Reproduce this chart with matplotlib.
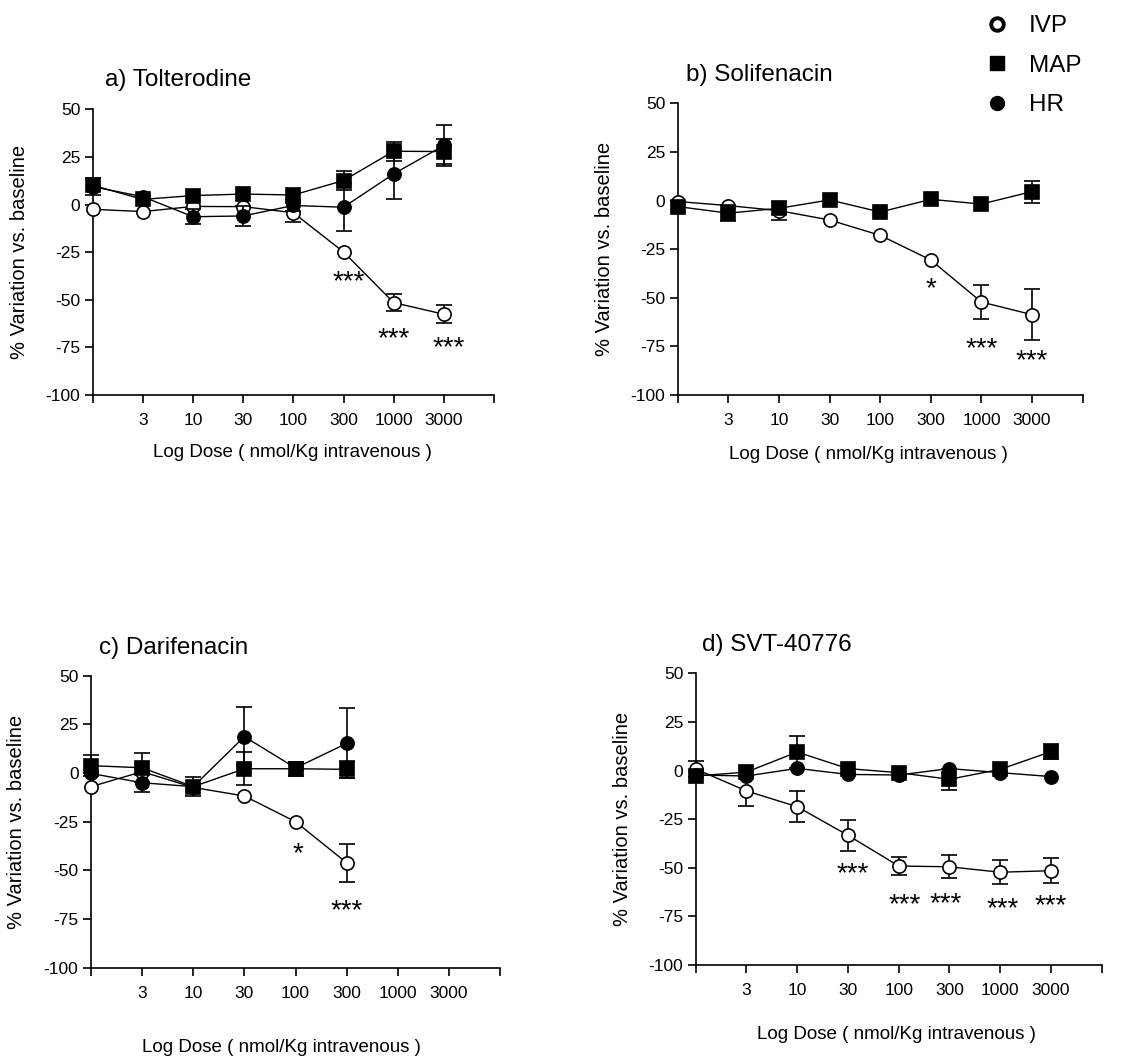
import numpy as np
import matplotlib
matplotlib.use('Agg')
from matplotlib import pyplot as plt
from matplotlib.lines import Line2D
from matplotlib.transforms import ScaledTranslation

plt.rcParams['font.family'] = 'Liberation Sans'
plt.rcParams['axes.unicode_minus'] = False

nan = np.nan

# dose levels (nmol/Kg, log scale shown as evenly spaced categories)
dose_labels = ['', '3', '10', '30', '100', '300', '1000', '3000', '']

titles = ['a) Tolterodine', 'b) Solifenacin', 'c) Darifenacin', 'd) SVT-40776']

# a) Tolterodine
tol_ivp = [-2.5, -3.7, -1.0, -1.1, -4.3, -24.9, -51.5, -57.6]
tol_ivp_err = [nan, nan, nan, nan, 5.0, nan, 4.4, 4.7]
tol_map = [10.1, 2.7, 4.7, 5.5, 5.0, 12.6, 28.0, 27.8]
tol_map_err = [nan, nan, nan, nan, nan, 5.0, 4.9, 6.6]
tol_hr = [9.4, 4.1, -6.4, -6.0, -0.5, -1.4, 16.1, 31.0]
tol_hr_err = [4.5, nan, 4.0, 5.3, 3.0, 12.5, 13.3, 11.0]
tol_stars_x = [5.1, 6.0, 7.1]
tol_stars_y = [-39.1, -69.0, -73.8]
tol_stars = ['***', '***', '***']

# b) Solifenacin
sol_ivp = [-0.5, -2.6, -5.2, -10.0, -17.9, -30.6, -52.2, -58.7]
sol_ivp_err = [nan, nan, 4.7, nan, nan, nan, 8.6, 13.0]
sol_map = [-3.1, -6.5, -4.0, 0.3, -5.9, 0.6, -1.8, 4.6]
sol_map_err = [nan, 4.0, nan, nan, nan, nan, nan, 5.7]
sol_stars_x = [5.0, 6.0, 7.0]
sol_stars_y = [-44.3, -75.1, -81.1]
sol_stars = ['*', '***', '***']

# c) Darifenacin
dar_ivp = [-7.0, 0.7, -7.4, -11.8, -25.0, -46.1]
dar_ivp_err = [nan, nan, nan, nan, nan, 9.7]
dar_map = [3.8, 2.7, -7.0, 2.2, 2.2, 1.9]
dar_map_err = [5.5, 7.5, 5.0, 8.5, 3.5, 4.5]
dar_hr = [-0.2, -5.0, -7.0, 18.7, 2.6, 15.2]
dar_hr_err = [nan, 4.8, nan, 15.0, nan, 18.0]
dar_stars_x = [4.05, 5.0]
dar_stars_y = [-40.4, -69.5]
dar_stars = ['*', '***']

# d) SVT-40776
svt_ivp = [0.8, -10.5, -18.6, -33.3, -49.1, -49.5, -52.3, -51.5]
svt_ivp_err = [4.0, 7.8, 7.9, 8.0, 4.6, 5.9, 6.2, 6.3]
svt_map = [-2.8, -0.8, 9.5, 1.0, -1.1, -4.5, 0.6, 9.7]
svt_map_err = [nan, nan, 8.4, nan, nan, 5.5, nan, 3.8]
svt_hr = [-2.3, -2.8, 1.1, -2.0, -2.3, 1.0, -1.1, -3.1]
svt_hr_err = [nan, nan, nan, nan, nan, nan, nan, nan]
svt_stars_x = [3.1, 4.12, 4.93, 6.04, 7.0]
svt_stars_y = [-51.7, -67.6, -67.1, -70.0, -68.3]
svt_stars = ['***', '***', '***', '***', '***']

W, H = 1144, 1056
fig = plt.figure(figsize=(W / 100, H / 100), dpi=100)


def px_axes(left, top, right, bottom):
    return fig.add_axes([left / W, 1 - bottom / H, (right - left) / W, (bottom - top) / H])


def series(ax, y, err, marker, face, z):
    x = np.arange(len(y))
    ax.errorbar(x, y, yerr=err, color='black', lw=1.0, marker=marker, ms=9.5,
                mfc=face, mec='black', mew=1.2, capsize=5.5, capthick=1.2,
                elinewidth=1.2, clip_on=False, zorder=z)


def panel(ax, ivp, ivp_err, maps, map_err, hr, hr_err, sx, sy, stars):
    series(ax, ivp, ivp_err, 'o', 'white', 3)
    if hr is not None:
        series(ax, hr, hr_err, 'o', 'black', 4)
    series(ax, maps, map_err, 's', 'black', 5)
    shift = ax.transData + ScaledTranslation(0, -0.03, fig.dpi_scale_trans)
    for x, y, s in zip(sx, sy, stars):
        ax.text(x, y, s, fontsize=20, ha='center', va='center', transform=shift)
    ax.set_xlim(0, 8)
    ax.set_ylim(-100, 50)
    ax.set_xticks(range(9))
    ax.set_xticklabels(dose_labels)
    ax.set_yticks([-100, -75, -50, -25, 0, 25, 50])
    ax.spines['top'].set_visible(False)
    ax.spines['right'].set_visible(False)
    ax.spines['left'].set_linewidth(1.2)
    ax.spines['bottom'].set_linewidth(1.2)
    ax.tick_params(axis='x', length=6, width=1.2, pad=7, labelsize=12.5)
    ax.tick_params(axis='y', length=6, width=1.2, pad=3, labelsize=12.5)


ax_a = px_axes(92.7, 109.3, 494, 395)
ax_b = px_axes(677.7, 103.3, 1082.7, 395)
ax_c = px_axes(91, 675.7, 500, 967.7)
ax_d = px_axes(695.7, 673.3, 1101.7, 965)

panel(ax_a, tol_ivp, tol_ivp_err, tol_map, tol_map_err, tol_hr, tol_hr_err,
      tol_stars_x, tol_stars_y, tol_stars)
panel(ax_b, sol_ivp, sol_ivp_err, sol_map, sol_map_err, None, None,
      sol_stars_x, sol_stars_y, sol_stars)
panel(ax_c, dar_ivp, dar_ivp_err, dar_map, dar_map_err, dar_hr, dar_hr_err,
      dar_stars_x, dar_stars_y, dar_stars)
panel(ax_d, svt_ivp, svt_ivp_err, svt_map, svt_map_err, svt_hr, svt_hr_err,
      svt_stars_x, svt_stars_y, svt_stars)

# titles, axis labels (pixel positions from the reference)
title_pos = [(105, 86), (686, 81), (99, 654), (702, 651)]
xlab_pos = [(292, 457), (868, 459), (281, 1052), (896, 1039)]
ylab_pos = [(20, 252), (604, 249), (17, 822), (622, 819)]
for t, (tx, ty), (lx, ly), (yx, yy) in zip(titles, title_pos, xlab_pos, ylab_pos):
    fig.text(tx / W, 1 - ty / H, t, fontsize=17.5, ha='left', va='baseline')
    fig.text(lx / W, 1 - ly / H, 'Log Dose ( nmol/Kg intravenous )', fontsize=13.5,
             ha='center', va='baseline')
    fig.text(yx / W, 1 - yy / H, '% Variation vs. baseline', fontsize=14.5,
             rotation=90, ha='center', va='center')

handles = [
    Line2D([], [], ls='none', marker='o', ms=9, mfc='white', mec='black', mew=2.8),
    Line2D([], [], ls='none', marker='s', ms=9.5, mfc='black', mec='black'),
    Line2D([], [], ls='none', marker='o', ms=10, mfc='black', mec='black'),
]
fig.legend(handles, ['IVP', 'MAP', 'HR'], loc='upper left', bbox_to_anchor=(973 / W, 1 - 3 / H),
           frameon=False, fontsize=17.5, handlelength=1.0, handletextpad=0.8,
           labelspacing=0.72, borderpad=0)

fig.savefig('out.png', dpi=100)
